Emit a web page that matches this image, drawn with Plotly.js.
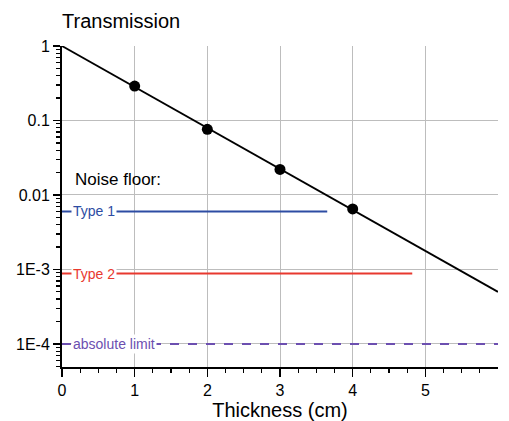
<!DOCTYPE html>
<html>
<head>
<meta charset="utf-8">
<script src="https://cdn.plot.ly/plotly-3.0.1.min.js"></script>
<style>html,body{margin:0;padding:0;background:#fff;}#chart{width:509px;height:421px;}</style>
</head>
<body>
<div id="chart"></div>
<script>
// Measured transmission points
const pointX = [1, 2, 3, 4];
const pointY = [0.29, 0.076, 0.022, 0.0065];
// Fitted exponential line endpoints
const fitX = [0, 6];
const fitY = [1, 0.0005];
// Noise floors
const type1X = [0, 3.65];
const type1Y = [0.006, 0.006];
const type2X = [0, 4.82];
const type2Y = [0.00088, 0.00088];
const limitX = [0, 6];
const limitY = [0.0001, 0.0001];
// Tick labels
const yTickVals = [1, 0.1, 0.01, 0.001, 0.0001];
const yTickText = ["1", "0.1", "0.01", "1E-3", "1E-4"];
const xTickVals = [0, 1, 2, 3, 4, 5];

// minor tick positions (axis decoration)
const xMinor = [];
for (let i = 1; i < 24; i++) if (i % 4) xMinor.push(i / 4);
const yMinor = [];
for (let e = -5; e < 0; e++) for (let m = 2; m <= 9; m++) yMinor.push(m * Math.pow(10, e));

const font = "Liberation Sans, Arial, sans-serif";
const cBlue = "#2d4ca3", cRed = "#e8392f", cPurple = "#6c4fb0";

const traces = [
  {x: limitX, y: limitY, mode: "lines", line: {color: cPurple, width: 2, dash: "dash"}, hoverinfo: "skip"},
  {x: type2X, y: type2Y, mode: "lines", line: {color: cRed, width: 2}, hoverinfo: "skip"},
  {x: type1X, y: type1Y, mode: "lines", line: {color: cBlue, width: 2}, hoverinfo: "skip"},
  {x: fitX, y: fitY, mode: "lines", line: {color: "#000", width: 1.8}, hoverinfo: "skip"},
  {x: pointX, y: pointY, mode: "markers", marker: {color: "#000", size: 11}, hoverinfo: "skip"}
];

const layout = {
  width: 509, height: 421,
  margin: {l: 62, r: 11, t: 46, b: 54},
  showlegend: false,
  paper_bgcolor: "#fff", plot_bgcolor: "#fff",
  font: {family: font, color: "#000"},
  title: {text: "Transmission", x: 0, xref: "paper", xanchor: "left", y: 0.95, yanchor: "middle", font: {size: 20, family: font}, pad: {l: 0}},
  xaxis: {
    range: [0, 6], tickmode: "array", tickvals: xTickVals, ticktext: xTickVals.map(String),
    showgrid: true, gridcolor: "#bdbdbd", gridwidth: 1,
    showline: true, linecolor: "#000", linewidth: 2,
    ticks: "outside", ticklen: 8, tickwidth: 1.5, tickcolor: "#000",
    minor: {tickmode: "array", tickvals: xMinor, ticks: "outside", ticklen: 4, tickwidth: 1.2, tickcolor: "#000", showgrid: false},
    tickfont: {size: 16, family: font}, zeroline: false,
    title: {text: "Thickness (cm)", font: {size: 20, family: font}, standoff: 8}
  },
  yaxis: {
    type: "log", range: [-4.31, 0],
    tickmode: "array", tickvals: yTickVals, ticktext: yTickText,
    showgrid: true, gridcolor: "#bdbdbd", gridwidth: 1,
    showline: true, linecolor: "#000", linewidth: 2,
    ticks: "outside", ticklen: 7, tickwidth: 1.5, tickcolor: "#000",
    minor: {tickmode: "array", tickvals: yMinor, ticks: "outside", ticklen: 4, tickwidth: 1.2, tickcolor: "#000", showgrid: false},
    tickfont: {size: 16, family: font}, zeroline: false
  },
  annotations: [
    {x: 0.15, y: Math.log10(0.016), xref: "x", yref: "y", text: "Noise floor:", showarrow: false, xanchor: "left", yanchor: "middle", font: {size: 17, family: font, color: "#000"}},
    {x: 0.12, y: Math.log10(type1Y[0]), xref: "x", yref: "y", text: "Type 1", showarrow: false, xanchor: "left", yanchor: "middle", bgcolor: "#fff", borderpad: 1, font: {size: 14, family: font, color: cBlue}},
    {x: 0.12, y: Math.log10(type2Y[0]), xref: "x", yref: "y", text: "Type 2", showarrow: false, xanchor: "left", yanchor: "middle", bgcolor: "#fff", borderpad: 1, font: {size: 14, family: font, color: cRed}},
    {x: 0.12, y: Math.log10(limitY[0]), xref: "x", yref: "y", text: "absolute limit", showarrow: false, xanchor: "left", yanchor: "middle", bgcolor: "#fff", borderpad: 1, font: {size: 14, family: font, color: cPurple}}
  ]
};

Plotly.newPlot("chart", traces, layout, {staticPlot: true, displayModeBar: false});
</script>
</body>
</html>
